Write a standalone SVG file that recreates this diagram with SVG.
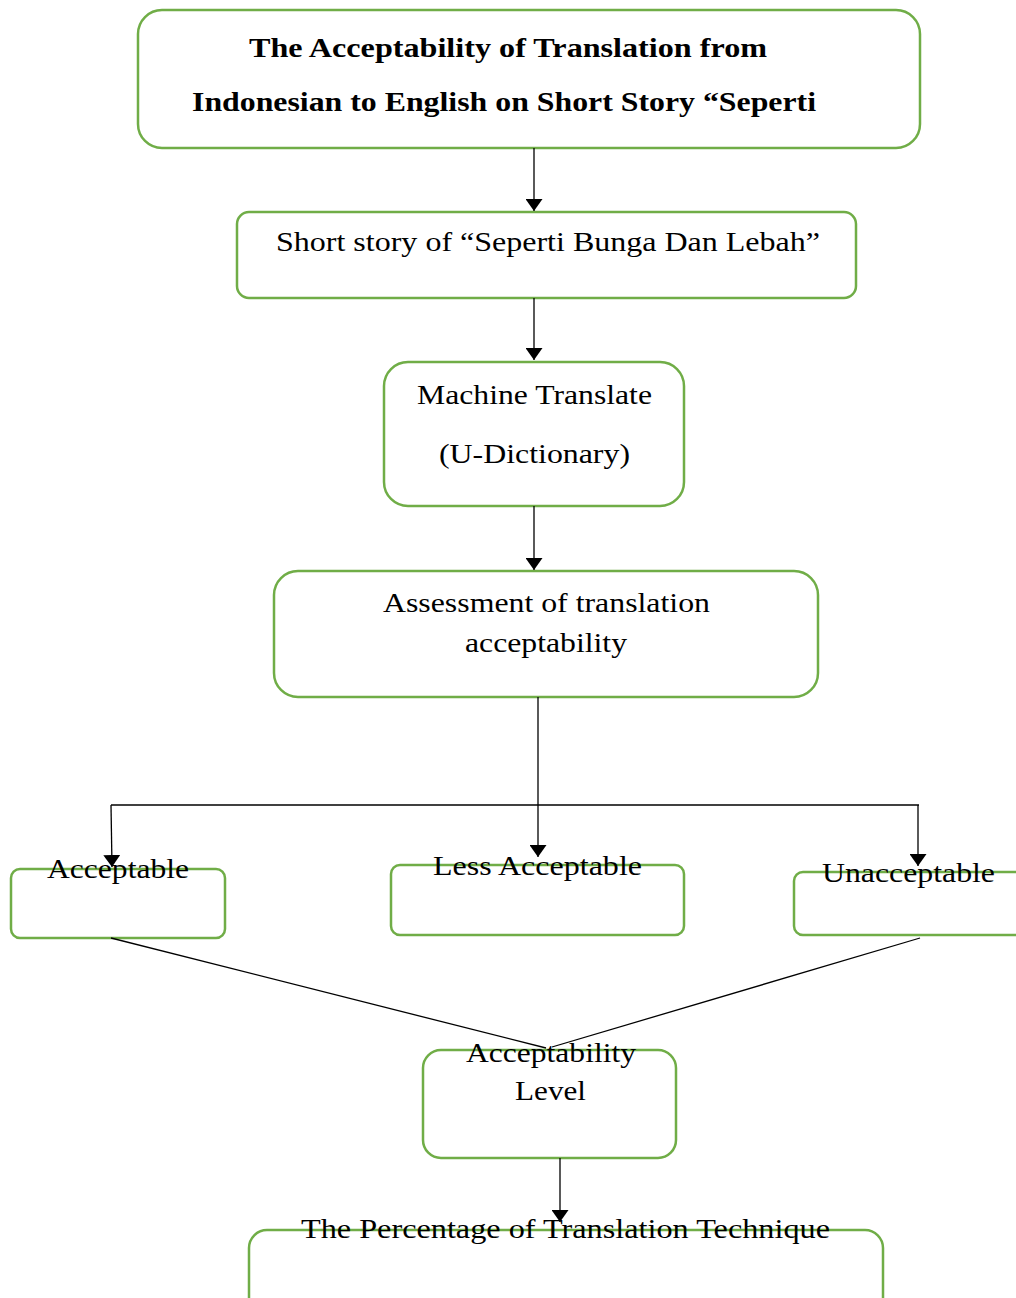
<svg xmlns="http://www.w3.org/2000/svg" width="1016" height="1298" viewBox="0 0 1016 1298">
<style>
.box{fill:#fff;stroke:#70AD47;stroke-width:2.5}
text{font-family:'Liberation Serif',Tinos,'Times New Roman',serif;font-size:28px;fill:#000}
.b{font-weight:bold}
.c{stroke:#000;stroke-width:1.3;fill:none}
</style>
<defs>
<marker id="ah" viewBox="0 0 12 17" refX="12" refY="8.5" markerWidth="12" markerHeight="17" markerUnits="userSpaceOnUse" orient="auto">
<path d="M0,0 L12,8.5 L0,17 Z" fill="#000"/>
</marker>
</defs>
<rect width="1016" height="1298" fill="#fff"/>
<g id="n1">
<rect class="box" x="138" y="10" width="782" height="138" rx="24"/>
<text class="b" x="249" y="57" textLength="518" lengthAdjust="spacingAndGlyphs">The Acceptability of Translation from</text>
<text class="b" x="192" y="111" textLength="624" lengthAdjust="spacingAndGlyphs">Indonesian to English on Short Story “Seperti</text>
</g>
<g id="n2">
<rect class="box" x="237" y="212" width="619" height="86" rx="12"/>
<text x="276" y="251" textLength="544" lengthAdjust="spacingAndGlyphs">Short story of “Seperti Bunga Dan Lebah”</text>
</g>
<g id="n3">
<rect class="box" x="384" y="362" width="300" height="144" rx="24"/>
<text x="417" y="404" textLength="235" lengthAdjust="spacingAndGlyphs">Machine Translate</text>
<text x="439" y="463" textLength="191" lengthAdjust="spacingAndGlyphs">(U-Dictionary)</text>
</g>
<g id="n4">
<rect class="box" x="274" y="571" width="544" height="126" rx="24"/>
<text x="383" y="612" textLength="327" lengthAdjust="spacingAndGlyphs">Assessment of translation</text>
<text x="465" y="652" textLength="162" lengthAdjust="spacingAndGlyphs">acceptability</text>
</g>
<g id="n5">
<rect class="box" x="11" y="869" width="214" height="69" rx="9"/>
<text x="47" y="878" textLength="142" lengthAdjust="spacingAndGlyphs">Acceptable</text>
</g>
<g id="n6">
<rect class="box" x="391" y="865" width="293" height="70" rx="9"/>
<text x="433" y="875" textLength="209" lengthAdjust="spacingAndGlyphs">Less Acceptable</text>
</g>
<g id="n7">
<rect class="box" x="794" y="872" width="240" height="63" rx="9"/>
<text x="822" y="882" textLength="173" lengthAdjust="spacingAndGlyphs">Unacceptable</text>
</g>
<g id="n8">
<rect class="box" x="423" y="1050" width="253" height="108" rx="18"/>
<text x="466" y="1062" textLength="170" lengthAdjust="spacingAndGlyphs">Acceptability</text>
<text x="515" y="1100" textLength="71" lengthAdjust="spacingAndGlyphs">Level</text>
</g>
<g id="n9">
<rect class="box" x="249" y="1230" width="634" height="90" rx="18"/>
<text x="301" y="1238" textLength="529" lengthAdjust="spacingAndGlyphs">The Percentage of Translation Technique</text>
</g>
<g id="connectors">
<line class="c" x1="534" y1="148" x2="534" y2="211" marker-end="url(#ah)"/>
<line class="c" x1="534" y1="298" x2="534" y2="360" marker-end="url(#ah)"/>
<line class="c" x1="534" y1="506" x2="534" y2="570" marker-end="url(#ah)"/>
<line class="c" x1="538" y1="697" x2="538" y2="857" marker-end="url(#ah)"/>
<line class="c" x1="111" y1="805" x2="919" y2="805"/>
<line class="c" x1="111" y1="805" x2="112" y2="867" marker-end="url(#ah)"/>
<line class="c" x1="918" y1="805" x2="918" y2="866" marker-end="url(#ah)"/>
<line class="c" x1="111" y1="938" x2="546" y2="1048"/>
<line class="c" x1="920" y1="938" x2="552" y2="1047"/>
<line class="c" x1="560" y1="1158" x2="560" y2="1222" marker-end="url(#ah)"/>
</g>
</svg>
